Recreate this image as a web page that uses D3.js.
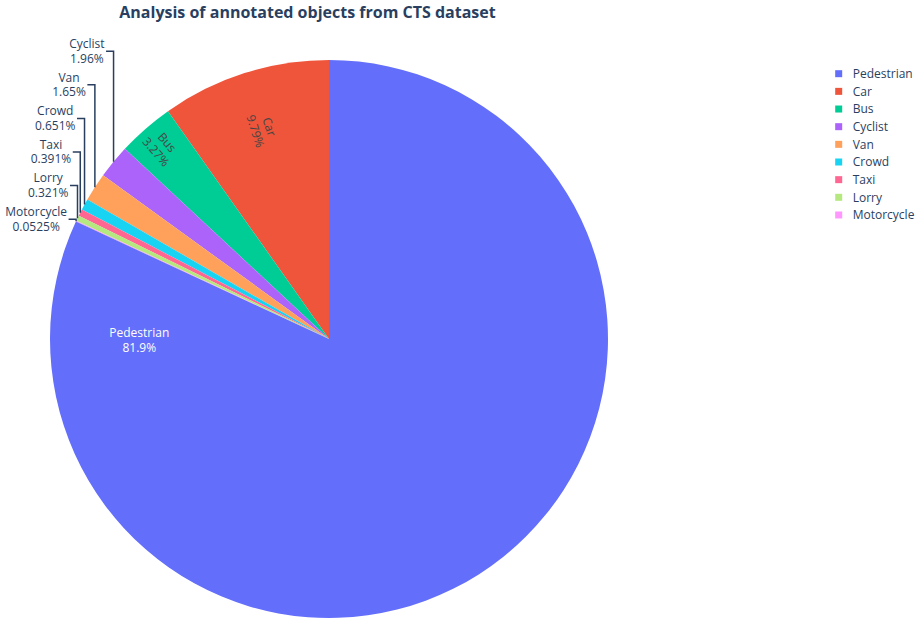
<!DOCTYPE html>
<html lang="en">
<head>
    <meta charset="UTF-8">
    <script src="https://cdnjs.cloudflare.com/ajax/libs/d3/7.8.5/d3.min.js"></script>
    <title>Analysis of annotated objects from CTS dataset</title>
    <style>
        body { margin: 0; background: #fff; }
        text { font-family: "Open Sans", verdana, arial, sans-serif; }
    </style>
</head>
<body>

<script>

    // data, in legend order
    let labels = ["Pedestrian", "Car", "Bus", "Cyclist", "Van", "Crowd", "Taxi", "Lorry", "Motorcycle"];
    let percents = [81.9, 9.79, 3.27, 1.96, 1.65, 0.651, 0.391, 0.321, 0.0525];
    let colors = ["#636efa", "#EF553B", "#00cc96", "#ab63fa", "#FFA15A", "#19d3f3", "#FF6692", "#B6E880", "#FF97FF"];
    // how each slice's text is shown
    let textMode = ["horizontal", "radial", "radial", "outside", "outside", "outside", "outside", "outside", "outside"];

    let width = 915, height = 621;
    let cx = 329, cy = 339, radius = 279;
    let fontColor = "#2a3f5f";

    let svg = d3.select("body").append("svg")
        .attr("width", width)
        .attr("height", height);

    svg.append("text")
        .attr("x", 307.5)
        .attr("y", 17.5)
        .attr("text-anchor", "middle")
        .style("font-size", "16px")
        .style("font-weight", "bold")
        .attr("fill", fontColor)
        .text("Analysis of annotated objects from CTS dataset");

    let data = labels.map(function(d, i) {
        return {label: d, value: percents[i], color: colors[i], mode: textMode[i]};
    });

    // slices go counterclockwise from 12 o'clock, starting with Car, Pedestrian last
    let order = data.slice(1).concat([data[0]]);

    let pie = d3.pie()
        .sort(null)
        .value(function(d) { return d.value; })
        .startAngle(0)
        .endAngle(-2 * Math.PI);

    let arc = d3.arc().innerRadius(0).outerRadius(radius);
    let arcs = pie(order);

    let g = svg.append("g").attr("transform", "translate(" + cx + "," + cy + ")");

    g.selectAll("path.slice")
        .data(arcs)
        .enter().append("path")
        .attr("class", "slice")
        .attr("d", arc)
        .attr("fill", function(d) { return d.data.color; });

    let fmt = d3.format(".3~r");
    let lineGap = 14.6;

    function polar(a, r) {
        return [r * Math.sin(a), -r * Math.cos(a)];
    }

    function addLines(sel, d) {
        sel.append("tspan").attr("x", 0).attr("y", -lineGap / 2 + 4.2).text(d.data.label);
        sel.append("tspan").attr("x", 0).attr("y", lineGap / 2 + 4.2).text(fmt(d.data.value) + "%");
    }

    // inside labels
    let radialPos = {Car: 0.79, Bus: 0.913};
    arcs.forEach(function(d) {
        let mid = (d.startAngle + d.endAngle) / 2;
        if (d.data.mode === "horizontal") {
            // big slice: label sits to the left of the centre
            let p = polar(-Math.PI / 2, radius * 0.68);
            let t = g.append("text")
                .attr("transform", "translate(" + p[0] + "," + (p[1] + 1) + ")")
                .attr("text-anchor", "middle")
                .style("font-size", "12px")
                .attr("fill", "#ffffff");
            addLines(t, d);
        } else if (d.data.mode === "radial") {
            let p = polar(mid, radius * radialPos[d.data.label]);
            let rot = 90 + mid * 180 / Math.PI;
            let t = g.append("text")
                .attr("transform", "translate(" + p[0] + "," + p[1] + ") rotate(" + rot + ")")
                .attr("text-anchor", "middle")
                .style("font-size", "12px")
                .attr("fill", "#444444");
            addLines(t, d);
        }
    });

    // outside labels, stacked upward from the last small slice
    let outside = arcs.filter(function(d) { return d.data.mode === "outside"; }).reverse();
    let prevY = null;
    outside.forEach(function(d) {
        let mid = (d.startAngle + d.endAngle) / 2;
        let p = polar(mid, radius);
        let ly = p[1] - 2;
        if (prevY !== null) ly = Math.min(ly, prevY - 33.6);
        prevY = ly;

        let right = p[0] - 9;
        let t = g.append("text")
            .attr("text-anchor", "middle")
            .style("font-size", "12px")
            .attr("fill", fontColor);
        addLines(t, d);
        let w = t.node().getBBox().width;
        t.attr("transform", "translate(" + (right - w / 2) + "," + ly + ")");

        g.append("path")
            .attr("d", "M" + p[0] + "," + p[1] + "V" + ly + "H" + (p[0] - 7.5))
            .attr("fill", "none")
            .attr("stroke", fontColor)
            .attr("stroke-width", 1.5);
    });

    // legend
    let legend = svg.append("g").attr("transform", "translate(838.7,73.7)");
    let item = legend.selectAll("g")
        .data(data)
        .enter().append("g")
        .attr("transform", function(d, i) { return "translate(0," + (i * 17.66) + ")"; });

    item.append("rect")
        .attr("x", -3.5).attr("y", -3.5)
        .attr("width", 7).attr("height", 7)
        .attr("fill", function(d) { return d.color; });

    item.append("text")
        .attr("x", 14)
        .attr("y", 4.3)
        .style("font-size", "12px")
        .attr("fill", fontColor)
        .text(function(d) { return d.label; });

</script>

</body>
</html>
